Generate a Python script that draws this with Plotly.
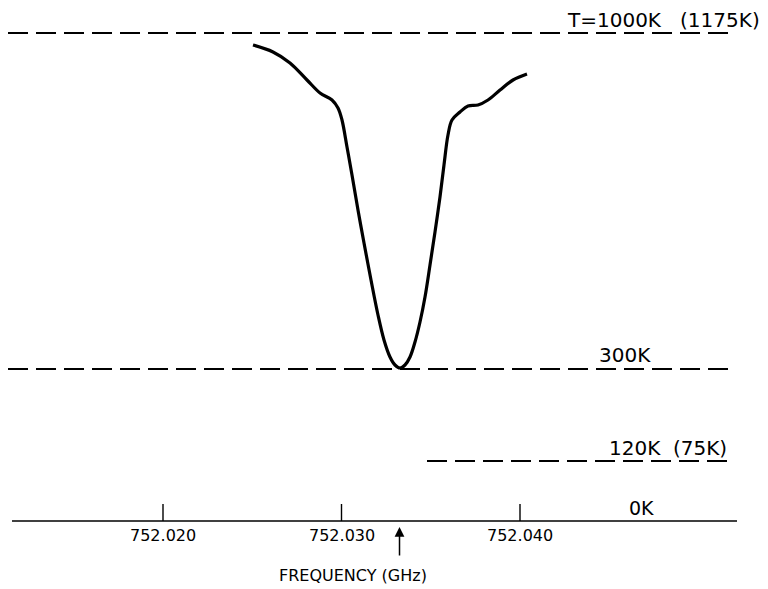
import plotly.graph_objects as go

# Frequency (GHz) and relative chart level (0 = 0 K baseline)
freq = [752.025042, 752.026162, 752.027115, 752.028067, 752.028796, 752.029468,
        752.029804, 752.030028, 752.030308, 752.030588, 752.030924, 752.031261,
        752.031653, 752.032045, 752.032381, 752.032717, 752.032997, 752.033277,
        752.033557, 752.033838, 752.034118, 752.034398, 752.034678, 752.034958,
        752.035238, 752.035518, 752.035742, 752.035966, 752.036190, 752.036639,
        752.037087, 752.037647, 752.038207, 752.038880, 752.039608, 752.040392]
level = [476, 469, 458, 441, 428, 421, 413, 401, 374, 346, 311, 278, 241, 206,
         181, 164, 156, 153, 156, 164, 179, 199, 224, 256, 289, 324, 356, 386,
         401, 409, 415, 416, 421, 431, 441, 447]

# Reference temperature levels
ref_names = ["T=1000K   (1175K)", "300K", "120K  (75K)", "0K"]
ref_levels = [488, 152, 60, 0]
ref_start = [752.011317, 752.011317, 752.034790, 752.011541]
ref_end = [752.051821, 752.051989, 752.051821, 752.052157]
label_x = [752.053557, 752.044314, 752.044874, 752.045994]
label_y = [501, 166, 73, 13]
label_size = [20, 20, 20, 19]
label_anchor = ["right", "left", "left", "left"]

tick_vals = [752.020, 752.030, 752.040]
tick_text = ["752.020", "752.030", "752.040"]
marker_freq = 752.03325
x_title = "FREQUENCY (GHz)"

FONT = "DejaVu Sans"
fig = go.Figure()

for i, lv in enumerate(ref_levels):
    fig.add_trace(go.Scatter(
        x=[ref_start[i], ref_end[i]], y=[lv, lv], mode="lines",
        line=dict(color="black", width=1.3 if lv == 0 else 1.9,
                  dash="solid" if lv == 0 else "20px,8px"),
        hoverinfo="skip", showlegend=False))
    fig.add_annotation(x=label_x[i], y=label_y[i], xref="x", yref="y",
                       text=ref_names[i], showarrow=False, xanchor=label_anchor[i],
                       yanchor="middle",
                       font=dict(family=FONT, size=label_size[i], color="black"))

# ticks
for tv, tt in zip(tick_vals, tick_text):
    fig.add_trace(go.Scatter(x=[tv, tv], y=[0, 17], mode="lines",
                             line=dict(color="black", width=1.4),
                             hoverinfo="skip", showlegend=False))
    fig.add_annotation(x=tv, y=-14, xref="x", yref="y", text=tt, showarrow=False,
                       xanchor="center", yanchor="middle",
                       font=dict(family=FONT, size=16, color="black"))

# curve
fig.add_trace(go.Scatter(x=freq, y=level, mode="lines",
                         line=dict(color="black", width=3.2, shape="spline", smoothing=1.0),
                         hoverinfo="skip", showlegend=False))

# arrow
fig.add_annotation(x=marker_freq, y=-6, xref="x", yref="y", ax=0, ay=30,
                   showarrow=True, arrowhead=2, arrowsize=1.3, arrowwidth=1.5,
                   arrowcolor="black", text="")
fig.add_annotation(x=752.026387, y=-54, xref="x", yref="y", text=x_title,
                   showarrow=False, xanchor="left", yanchor="middle",
                   font=dict(family=FONT, size=16, color="black"))

fig.update_layout(
    width=768, height=589, margin=dict(l=0, r=0, t=0, b=0),
    plot_bgcolor="white", paper_bgcolor="white",
    xaxis=dict(range=[752.010868, 752.053894], visible=False, fixedrange=True),
    yaxis=dict(range=[-68, 521], visible=False, fixedrange=True),
)
fig.write_html("out.html")
